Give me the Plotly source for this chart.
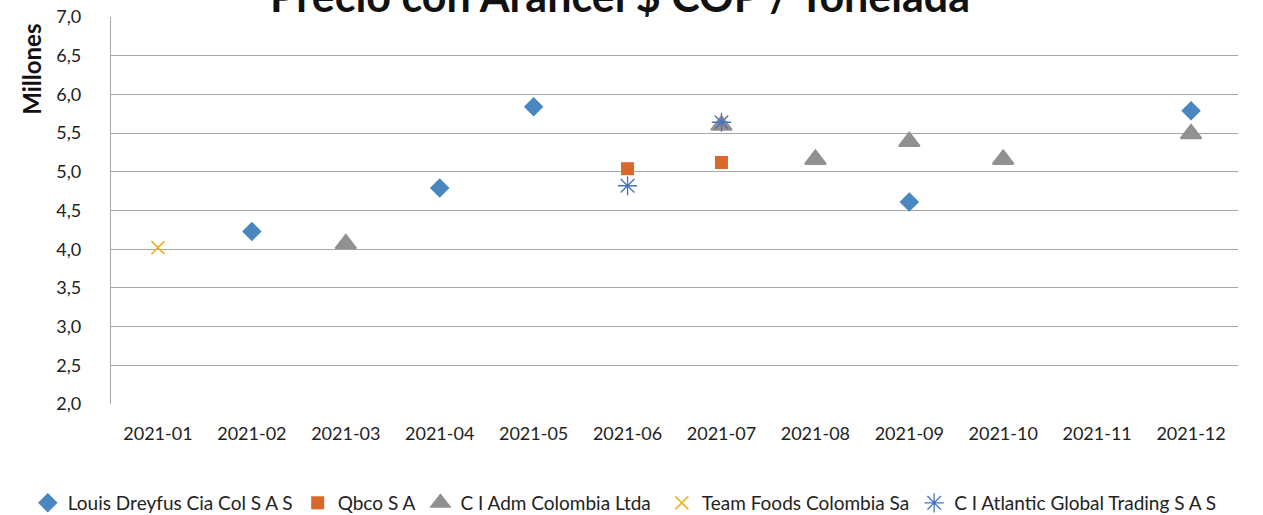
import plotly.graph_objects as go

meses = ["2021-01", "2021-02", "2021-03", "2021-04", "2021-05", "2021-06",
         "2021-07", "2021-08", "2021-09", "2021-10", "2021-11", "2021-12"]

louis_x = ["2021-02", "2021-04", "2021-05", "2021-09", "2021-12"]
louis_y = [4.23, 4.79, 5.84, 4.61, 5.79]

qbco_x = ["2021-06", "2021-07"]
qbco_y = [5.04, 5.12]

adm_x = ["2021-03", "2021-07", "2021-08", "2021-09", "2021-10", "2021-12"]
adm_y = [4.07, 5.60, 5.16, 5.39, 5.16, 5.49]

team_x = ["2021-01"]
team_y = [4.02]

atlantic_x = ["2021-06", "2021-07"]
atlantic_y = [4.82, 5.64]

y_ticks = [2.0, 2.5, 3.0, 3.5, 4.0, 4.5, 5.0, 5.5, 6.0, 6.5, 7.0]

fuente = "Lato, Open Sans, sans-serif"

fig = go.Figure()
fig.add_trace(go.Scatter(x=louis_x, y=louis_y, mode="markers", name="Louis Dreyfus Cia Col S A S",
                         marker=dict(symbol="diamond", size=15, color="#4a86c0")))
fig.add_trace(go.Scatter(x=qbco_x, y=qbco_y, mode="markers", name="Qbco S A",
                         marker=dict(symbol="square", size=13, color="#d9692a")))
fig.add_trace(go.Scatter(x=adm_x, y=adm_y, mode="markers", name="C I Adm Colombia Ltda",
                         marker=dict(symbol="triangle-up", size=18, color="#919191",
                                     line=dict(color="#919191", width=2))))
fig.add_trace(go.Scatter(x=team_x, y=team_y, mode="markers", name="Team Foods Colombia Sa",
                         legend="legend2",
                         marker=dict(symbol="x-thin-open", size=13, color="#f2b01e",
                                     line=dict(color="#f2b01e", width=1.5))))
fig.add_trace(go.Scatter(x=atlantic_x, y=atlantic_y, mode="markers", name="C I Atlantic Global Trading S A S",
                         legend="legend2",
                         marker=dict(symbol="asterisk-open", size=16, color="#4472c4",
                                     line=dict(color="#4472c4", width=1.3))))

fig.update_xaxes(type="category", categoryorder="array", categoryarray=meses, range=[-0.5, 11.5],
                 showgrid=False, showline=False, ticks="", automargin=False,
                 tickfont=dict(size=18, color="#222"), ticklabelstandoff=17)
fig.update_yaxes(range=[2.0, 7.0], tickvals=y_ticks,
                 ticktext=[f"{v:.1f}".replace(".", ",") for v in y_ticks],
                 showgrid=True, gridcolor="#a6a6a6", gridwidth=1.3,
                 showline=True, linecolor="#a6a6a6", linewidth=1.3,
                 ticks="outside", ticklen=25, tickcolor="rgba(0,0,0,0)",
                 tickfont=dict(size=18, color="#222"), automargin=False,
                 zeroline=False)

fig.add_annotation(text="<b>Millones</b>", xref="paper", yref="paper",
                   x=-0.0705, y=0.865, textangle=-90, showarrow=False,
                   xanchor="center", yanchor="middle",
                   font=dict(size=24, color="#111"))

fig.add_annotation(text="<b>Precio con Arancel $ COP / Tonelada</b>", xref="paper", yref="paper",
                   x=0.452, y=1.055, yanchor="middle", showarrow=False,
                   font=dict(size=43, color="#111"))

leyenda = dict(orientation="h", xref="container", yref="container",
               xanchor="left", y=0.0233, yanchor="middle",
               font=dict(size=19, color="#222"), tracegroupgap=0, itemwidth=30)

fig.update_layout(
    width=1263, height=515,
    margin=dict(l=111, r=25, t=17, b=111, autoexpand=False),
    paper_bgcolor="white", plot_bgcolor="white",
    font=dict(family=fuente),
    showlegend=True,
    legend=dict(leyenda, x=0.022),
    legend2=dict(leyenda, x=0.524),
)

fig.write_html("out.html", config={"displayModeBar": False},
               post_script="document.body.style.margin='0';")
